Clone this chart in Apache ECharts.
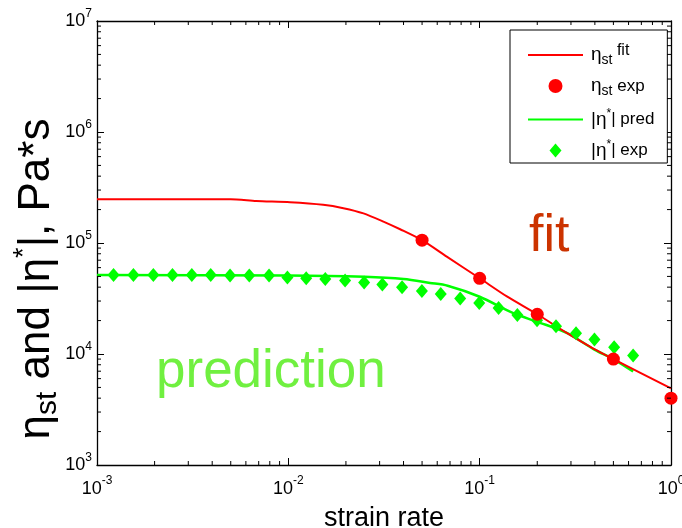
<!DOCTYPE html>
<html><head><meta charset="utf-8">
<script src="https://cdn.jsdelivr.net/npm/echarts@6/dist/echarts.min.js"></script>
<style>html,body{margin:0;padding:0;background:#fff}#c{width:682px;height:528px}</style>
</head><body><div id="c"></div>
<script>
// ---- data ----
const fitX = [0.001, 0.005, 0.0068, 0.0102, 0.0152, 0.0194, 0.0247, 0.0314, 0.0384, 0.05, 0.0673, 0.1, 0.1387, 0.2, 0.285, 0.393, 0.5, 1.0];
const fitY = [2.48e5, 2.48e5, 2.39e5, 2.33e5, 2.21e5, 2.06e5, 1.85e5, 1.56e5, 1.33e5, 1.06e5, 7.53e4, 4.81e4, 3.3e4, 2.28e4, 1.55e4, 1.12e4, 9.0e3, 4.9e3];
const expX = [0.05, 0.1, 0.2, 0.5, 1.0];
const expY = [1.06e5, 4.81e4, 2.28e4, 9.0e3, 4.0e3];
const predX = [0.001, 0.01, 0.025, 0.04, 0.055, 0.068, 0.1, 0.15, 0.2, 0.285, 0.4, 0.5, 0.634];
const predY = [5.15e4, 5.1e4, 4.96e4, 4.74e4, 4.37e4, 4.12e4, 3.28e4, 2.33e4, 1.95e4, 1.55e4, 1.09e4, 9.0e3, 6.95e3];
const starX = [0.00122, 0.00155, 0.00197, 0.00248, 0.00313, 0.00393, 0.00496, 0.00625, 0.00793, 0.00989, 0.0124, 0.0156, 0.0198, 0.0249, 0.0310, 0.0393, 0.0499, 0.0626, 0.0791, 0.0995, 0.1256, 0.1574, 0.1995, 0.2506, 0.3189, 0.398, 0.5045, 0.634];
const starY = [5.15e4, 5.15e4, 5.15e4, 5.15e4, 5.15e4, 5.15e4, 5.1e4, 5.1e4, 5.1e4, 4.89e4, 4.81e4, 4.74e4, 4.59e4, 4.41e4, 4.23e4, 3.99e4, 3.70e4, 3.47e4, 3.16e4, 2.88e4, 2.59e4, 2.24e4, 2.01e4, 1.78e4, 1.54e4, 1.35e4, 1.15e4, 9.7e3];
const xMinorTicks = [0.002,0.003,0.004,0.005,0.006,0.007,0.008,0.009,0.02,0.03,0.04,0.05,0.06,0.07,0.08,0.09,0.2,0.3,0.4,0.5,0.6,0.7,0.8,0.9];
const yMinorTicks = [2e3,3e3,4e3,5e3,6e3,7e3,8e3,9e3,2e4,3e4,4e4,5e4,6e4,7e4,8e4,9e4,2e5,3e5,4e5,5e5,6e5,7e5,8e5,9e5,2e6,3e6,4e6,5e6,6e6,7e6,8e6,9e6];
const xRange = [0.001, 1];
const yRange = [1e3, 1e7];
const seriesNames = ['ηst fit', 'ηst exp', '|η*| pred', '|η*| exp'];
const xTitle = 'strain rate';

const F = "'Liberation Sans', Arial, sans-serif";
const zip = (a, b) => a.map((v, i) => [v, b[i]]);
const expLabel = v => '{b|10}{s|' + Math.round(Math.log10(v)) + '}';

const legendText = {
  'ηst fit': '{e|η}{sub|st}{t| fit}',
  'ηst exp': '{e|η}{sub|st}{m| exp}',
  '|η*| pred': '{e||η}{sup|*}{m|| pred}',
  '|η*| exp': '{e||η}{sup|*}{m|| exp}'
};
const lineIcon = 'path://M0,0 L55,0 L55,2 L0,2 Z';
const diamondIcon = 'path://M6,0 L12,7 L6,14 L0,7 Z';

const chart = echarts.init(document.getElementById('c'), null, {renderer: 'canvas'});
chart.setOption({
  animation: false,
  backgroundColor: '#fff',
  grid: {left: 97, right: 11, top: 21, bottom: 63, containLabel: false, outerBoundsMode: 'none'},
  legend: {
    orient: 'vertical', left: 510, top: 30,
    padding: [13, 13, 3, 18],
    itemWidth: 55, itemHeight: 14, itemGap: 9.5,
    borderColor: '#000', borderWidth: 1, backgroundColor: '#fff',
    data: [{name: seriesNames[0], icon: lineIcon}, {name: seriesNames[1], icon: 'circle'}, {name: seriesNames[2], icon: lineIcon}, {name: seriesNames[3], icon: diamondIcon}],
    formatter: n => legendText[n],
    textStyle: {
      color: '#000', fontFamily: F, padding: [0, 0, 0, 3],
      rich: {
        e: {fontSize: 19, lineHeight: 24, fontFamily: F, color: '#000'},
        sub: {fontSize: 14, verticalAlign: 'bottom', fontFamily: F, color: '#000'},
        sup: {fontSize: 12, verticalAlign: 'top', fontFamily: F, color: '#000'},
        t: {fontSize: 16, verticalAlign: 'top', fontFamily: F, color: '#000'},
        m: {fontSize: 17, fontFamily: F, color: '#000'}
      }
    }
  },
  xAxis: [{
    type: 'log', logBase: 10, min: xRange[0], max: xRange[1],
    name: xTitle, nameLocation: 'middle', nameGap: 40, nameMoveOverlap: false,
    nameTextStyle: {fontSize: 27, fontFamily: F, color: '#000'},
    axisLine: {lineStyle: {color: '#000', width: 1.3}},
    axisTick: {inside: true, length: 7, lineStyle: {color: '#000'}},
    splitLine: {show: false},
    axisLabel: {
      formatter: expLabel, margin: 10, color: '#000', showMinLabel: true, showMaxLabel: true,
      rich: {b: {fontSize: 18, fontFamily: F, lineHeight: 28, color: '#000'}, s: {fontSize: 12, verticalAlign: 'top', fontFamily: F, color: '#000'}}
    }
  }, {
    type: 'log', logBase: 10, min: xRange[0], max: xRange[1], position: 'top',
    axisLine: {lineStyle: {color: '#000', width: 1.3}},
    axisTick: {inside: true, length: 7, lineStyle: {color: '#000'}},
    axisLabel: {show: false}, splitLine: {show: false}
  }],
  yAxis: [{
    type: 'log', logBase: 10, min: yRange[0], max: yRange[1],
    name: '{m|η}{sub|st}{m| and |η}{sup|*}{m||, Pa*s}',
    nameLocation: 'middle', nameGap: 34, nameRotate: 90, nameMoveOverlap: false,
    nameTextStyle: {
      fontSize: 44, fontFamily: F, color: '#000', padding: [0, 72, 0, 0],
      rich: {
        m: {fontSize: 44, lineHeight: 52, fontFamily: F, color: '#000'},
        sub: {fontSize: 30, verticalAlign: 'bottom', fontFamily: F, color: '#000'},
        sup: {fontSize: 27, verticalAlign: 'top', fontFamily: F, color: '#000'}
      }
    },
    axisLine: {lineStyle: {color: '#000', width: 1.3}},
    axisTick: {inside: true, length: 7, lineStyle: {color: '#000'}},
    splitLine: {show: false},
    axisLabel: {
      formatter: expLabel, margin: 5, color: '#000',
      rich: {b: {fontSize: 18, fontFamily: F, lineHeight: 26, color: '#000'}, s: {fontSize: 12, verticalAlign: 'top', fontFamily: F, color: '#000'}}
    }
  }, {
    type: 'log', logBase: 10, min: yRange[0], max: yRange[1], position: 'right',
    axisLine: {lineStyle: {color: '#000', width: 1.3}},
    axisTick: {inside: true, length: 7, lineStyle: {color: '#000'}},
    axisLabel: {show: false}, splitLine: {show: false}
  }],
  graphic: [
    {type: 'text', left: 529, top: 211, style: {text: 'fit', fontSize: 52, fontFamily: F, fill: '#cc3300'}, z: 10},
    {type: 'text', left: 156, top: 346, style: {text: 'prediction', fontSize: 53, fontFamily: F, fill: '#70f040'}, z: 10}
  ],
  series: [
    {name: seriesNames[2], type: 'line', data: zip(predX, predY), symbol: 'none', smooth: 0.3,
     lineStyle: {color: '#00ff00', width: 2.5}, itemStyle: {color: '#00ff00'}, z: 2},
    {name: seriesNames[0], type: 'line', data: zip(fitX, fitY), symbol: 'none', smooth: 0.25,
     lineStyle: {color: '#ff0000', width: 2}, itemStyle: {color: '#ff0000'}, z: 3},
    {name: seriesNames[3], type: 'scatter', data: zip(starX, starY), symbol: 'diamond', symbolSize: [12, 14],
     itemStyle: {color: '#00ff00', opacity: 1}, z: 4},
    {name: seriesNames[1], type: 'scatter', data: zip(expX, expY), symbol: 'circle', symbolSize: 13,
     itemStyle: {color: '#ff0000', opacity: 1}, z: 4},
    {type: 'custom', name: 'xminor', silent: true, clip: false, z: 5,
     data: xMinorTicks.map(v => [v, yRange[0]]), encode: {x: 0, y: 1},
     renderItem: (params, api) => {
       const b = api.coord([api.value(0), yRange[0]]);
       const t = api.coord([api.value(0), yRange[1]]);
       const st = {stroke: '#000', lineWidth: 1};
       return {type: 'group', children: [
         {type: 'line', shape: {x1: b[0], y1: b[1], x2: b[0], y2: b[1] - 4}, style: st},
         {type: 'line', shape: {x1: t[0], y1: t[1], x2: t[0], y2: t[1] + 4}, style: st}
       ]};
     }},
    {type: 'custom', name: 'yminor', silent: true, clip: false, z: 5,
     data: yMinorTicks.map(v => [xRange[0], v]), encode: {x: 0, y: 1},
     renderItem: (params, api) => {
       const l = api.coord([xRange[0], api.value(1)]);
       const r = api.coord([xRange[1], api.value(1)]);
       const st = {stroke: '#000', lineWidth: 1};
       return {type: 'group', children: [
         {type: 'line', shape: {x1: l[0], y1: l[1], x2: l[0] + 4, y2: l[1]}, style: st},
         {type: 'line', shape: {x1: r[0], y1: r[1], x2: r[0] - 4, y2: r[1]}, style: st}
       ]};
     }}
  ]
});
</script>
</body></html>
